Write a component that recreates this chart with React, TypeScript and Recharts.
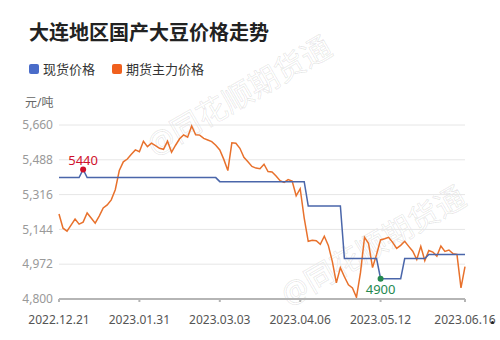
import React from 'react';
import { LineChart, Line, XAxis, YAxis, CartesianGrid } from 'recharts';

// x positions are trading-day indexes; only the tick dates are shown
const tickIndex = [0, 20, 40, 60, 80, 101];
const tickLabels = ['2022.12.21', '2023.01.31', '2023.03.03', '2023.04.06', '2023.05.12', '2023.06.16'];
const yTicks = [4800, 4972, 5144, 5316, 5488, 5660];

// 现货价格 (spot)
const spot = [
  5400, 5400, 5400, 5400, 5400, 5400, 5440, 5400, 5400, 5400,
  5400, 5400, 5400, 5400, 5400, 5400, 5400, 5400, 5400, 5400,
  5400, 5400, 5400, 5400, 5400, 5400, 5400, 5400, 5400, 5400,
  5400, 5400, 5400, 5400, 5400, 5400, 5400, 5400, 5400, 5400,
  5380, 5380, 5380, 5380, 5380, 5380, 5380, 5380, 5380, 5380,
  5380, 5380, 5380, 5380, 5380, 5380, 5380, 5380, 5380, 5380,
  5380, 5380, 5260, 5260, 5260, 5260, 5260, 5260, 5260, 5260,
  5260, 5000, 5000, 5000, 5000, 5000, 5000, 5000, 5000, 5000,
  4900, 4900, 4900, 4900, 4900, 4900, 5000, 5000, 5000, 5000,
  5000, 5000, 5020, 5020, 5020, 5020, 5020, 5020, 5020, 5020,
  5020, 5020,
];

// 期货主力价格 (futures main contract)
const futures = [
  5220, 5150, 5135, 5165, 5195, 5170, 5180, 5225, 5200, 5175,
  5210, 5250, 5265, 5290, 5340, 5435, 5478, 5492, 5515, 5537,
  5528, 5580, 5553, 5570, 5558, 5545, 5540, 5580, 5525, 5560,
  5592, 5611, 5600, 5655, 5612, 5610, 5594, 5586, 5578, 5560,
  5537, 5490, 5435, 5572, 5570, 5545, 5500, 5478, 5455, 5447,
  5444, 5466, 5430, 5428, 5408, 5385, 5376, 5390, 5383, 5310,
  5345, 5200, 5085, 5090, 5088, 5070, 5110, 5065, 4985, 4880,
  4955, 4910, 4870, 4855, 4808, 4930, 5105, 5075, 4955, 5020,
  5092, 5098, 5105, 5080, 5050, 5065, 5085, 5060, 5036, 4995,
  5060, 4990, 5040, 5032, 5012, 5062, 5035, 5042, 5024, 5020,
  4855, 4960,
];

const MAX_IDX = 6;
const MIN_IDX = 80;

const data = spot.map((v, i) => ({ i, spot: v, futures: futures[i] }));

const FONT = '"Noto Sans", "Noto Sans CJK SC", sans-serif';
const BLUE = '#4a66aa';
const ORANGE = '#e8712c';

const SpotDot = (props: any) => {
  const { cx, cy, index } = props;
  if (index === MAX_IDX) {
    return (
      <g key={`d${index}`}>
        <circle cx={cx} cy={cy} r={3} fill="#d0102b" />
        <text x={cx} y={cy - 5} textAnchor="middle" fill="#d0102b" fontSize={13} fontFamily={FONT}>
          {spot[index]}
        </text>
      </g>
    );
  }
  if (index === MIN_IDX) {
    return (
      <g key={`d${index}`}>
        <circle cx={cx} cy={cy} r={3} fill="#25894f" />
        <text x={cx} y={cy + 15} textAnchor="middle" fill="#25894f" fontSize={13} fontFamily={FONT}>
          {spot[index]}
        </text>
      </g>
    );
  }
  return <g key={`d${index}`} />;
};

const Watermark = ({ x, y }: { x: number; y: number }) => (
  <div
    style={{
      position: 'absolute',
      left: x - 120,
      top: y - 20,
      width: 240,
      textAlign: 'center',
      fontSize: 30,
      fontFamily: FONT,
      color: 'rgba(0,0,0,0.02)',
      WebkitTextStroke: '1px rgba(0,0,0,0.09)',
      transform: 'rotate(-30deg)',
      whiteSpace: 'nowrap',
    }}
  >
    @同花顺期货通
  </div>
);

export default function App() {
  return (
    <div style={{ position: 'absolute', left: 0, top: 0, width: 500, height: 340, background: '#fff', fontFamily: FONT, overflow: 'hidden' }}>
      <Watermark x={238} y={92} />
      <Watermark x={372} y={242} />
      <div style={{ position: 'absolute', left: 29, top: 23, fontSize: 20, lineHeight: '20px', fontWeight: 'bold', color: '#222' }}>
        大连地区国产大豆价格走势
      </div>
      <div style={{ position: 'absolute', left: 29, top: 61, display: 'flex', alignItems: 'center', fontSize: 13, lineHeight: '16px', color: '#333' }}>
        <span style={{ width: 10, height: 10, borderRadius: 2, background: '#4a6cc9', marginRight: 4 }} />
        <span style={{ marginRight: 17 }}>现货价格</span>
        <span style={{ width: 10, height: 10, borderRadius: 2, background: '#f0601d', marginRight: 4 }} />
        <span>期货主力价格</span>
      </div>
      <div style={{ position: 'absolute', left: 25, top: 95, fontSize: 12, lineHeight: '16px', color: '#666' }}>元/吨</div>
      <div style={{ position: 'absolute', left: 0, top: 0 }}>
        <LineChart width={500} height={340} data={data} margin={{ top: 125, right: 35, bottom: 0, left: 9 }}>
          <CartesianGrid vertical={false} stroke="#e6e6e6" />
          <XAxis
            dataKey="i"
            type="number"
            domain={[0, 101]}
            ticks={tickIndex}
            tickFormatter={(v: number) => tickLabels[tickIndex.indexOf(v)] ?? ''}
            interval={0}
            height={41}
            stroke="#b5b5b5"
            strokeWidth={2}
            tickSize={3}
            tickMargin={13}
            tick={{ fill: '#555', fontSize: 12, fontFamily: FONT }}
          />
          <YAxis
            domain={[4800, 5660]}
            ticks={yTicks}
            width={50}
            axisLine={false}
            tickLine={false}
            tickMargin={0}
            tickFormatter={(v: number) => v.toLocaleString('en-US')}
            tick={{ fill: '#999', fontSize: 12, fontFamily: FONT }}
          />
          <Line
            type="linear"
            dataKey="futures"
            stroke={ORANGE}
            strokeWidth={1.5}
            dot={false}
            isAnimationActive={false}
          />
          <Line
            type="linear"
            dataKey="spot"
            stroke={BLUE}
            strokeWidth={1.5}
            dot={SpotDot}
            activeDot={false}
            isAnimationActive={false}
          />
        </LineChart>
      </div>
      <div style={{ position: 'absolute', left: 491, top: 321, width: 3, height: 3, borderRadius: 2, background: '#222' }} />
    </div>
  );
}
